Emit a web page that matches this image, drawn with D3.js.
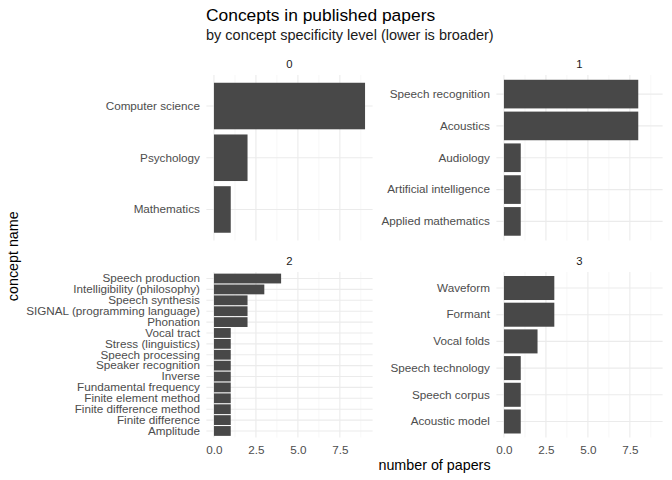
<!DOCTYPE html>
<html><head><meta charset="utf-8">
<script src="https://cdn.jsdelivr.net/npm/d3@7"></script>
<style>body{margin:0;background:#fff}text{font-family:"Liberation Sans",Arial,Helvetica,sans-serif}</style>
</head><body><div id="chart"></div>
<script>
const levels = ["0", "1", "2", "3"];
const level0Names = ["Computer science", "Psychology", "Mathematics"];
const level0Counts = [9, 2, 1];
const level1Names = ["Speech recognition", "Acoustics", "Audiology", "Artificial intelligence", "Applied mathematics"];
const level1Counts = [8, 8, 1, 1, 1];
const level2Names = ["Speech production", "Intelligibility (philosophy)", "Speech synthesis", "SIGNAL (programming language)", "Phonation", "Vocal tract", "Stress (linguistics)", "Speech processing", "Speaker recognition", "Inverse", "Fundamental frequency", "Finite element method", "Finite difference method", "Finite difference", "Amplitude"];
const level2Counts = [4, 3, 2, 2, 2, 1, 1, 1, 1, 1, 1, 1, 1, 1, 1];
const level3Names = ["Waveform", "Formant", "Vocal folds", "Speech technology", "Speech corpus", "Acoustic model"];
const level3Counts = [3, 3, 2, 1, 1, 1];
const xTicks = [0, 2.5, 5, 7.5];
const xMinor = [1.25, 3.75, 6.25, 8.75];

const W = 672, H = 480;
const svg = d3.select("#chart").append("svg").attr("width", W).attr("height", H);

const names = [level0Names, level1Names, level2Names, level3Names];
const counts = [level0Counts, level1Counts, level2Counts, level3Counts];

const colX = [[206.4, 372.6], [496.4, 662.6]];
const rowY = [[75, 240.5], [272, 437.5]];
const maxV = d3.max(counts.flat());

svg.append("text").attr("x", 206).attr("y", 21).attr("font-size", 17.4).attr("fill", "#000").text("Concepts in published papers");
svg.append("text").attr("x", 206).attr("y", 40).attr("font-size", 14.5).attr("fill", "#1a1a1a").text("by concept specificity level (lower is broader)");

levels.forEach((lv, i) => {
  const col = i % 2, row = Math.floor(i / 2);
  const [x0, x1] = colX[col];
  const [y0, y1] = rowY[row];
  const x = d3.scaleLinear().domain([-maxV * 0.05, maxV * 1.05]).range([x0, x1]);
  const n = names[i].length;
  const step = (y1 - y0) / (n + 0.2);
  const y = d3.scaleBand().domain(names[i]).range([y0 + 0.1 * step, y1 - 0.1 * step]).paddingInner(0.1).paddingOuter(0.05);
  const g = svg.append("g");
  g.selectAll("line.minor").data(xMinor).join("line")
    .attr("x1", d => x(d)).attr("x2", d => x(d)).attr("y1", y0).attr("y2", y1)
    .attr("stroke", "#f2f2f2").attr("stroke-width", 0.6);
  g.selectAll("line.major").data(xTicks).join("line")
    .attr("x1", d => x(d)).attr("x2", d => x(d)).attr("y1", y0).attr("y2", y1)
    .attr("stroke", "#ebebeb").attr("stroke-width", 1.1);
  g.selectAll("line.ymaj").data(names[i]).join("line")
    .attr("x1", x0).attr("x2", x1)
    .attr("y1", d => y(d) + y.bandwidth() / 2).attr("y2", d => y(d) + y.bandwidth() / 2)
    .attr("stroke", "#ebebeb").attr("stroke-width", 1.1);
  g.selectAll("rect").data(names[i].map((d, j) => ({ name: d, v: counts[i][j] }))).join("rect")
    .attr("x", x(0)).attr("width", d => x(d.v) - x(0))
    .attr("y", d => y(d.name)).attr("height", y.bandwidth())
    .attr("fill", "#484848");
  const yAxis = d3.axisLeft(y).tickSize(0).tickPadding(6.5);
  const ya = g.append("g").attr("transform", `translate(${x0},0)`).call(yAxis);
  ya.select(".domain").remove();
  ya.selectAll("text").attr("font-size", 11.7).attr("fill", "#4d4d4d").style("font-family", '"Liberation Sans",Arial,sans-serif');
  g.append("text").attr("x", (x0 + x1) / 2).attr("y", y0 - 7).attr("text-anchor", "middle")
    .attr("font-size", 11.3).attr("fill", "#1a1a1a").text(lv);
  if (row === 1) {
    const xAxis = d3.axisBottom(x).tickValues(xTicks).tickFormat(d3.format(".1f")).tickSize(0).tickPadding(8);
    const xa = g.append("g").attr("transform", `translate(0,${y1})`).call(xAxis);
    xa.select(".domain").remove();
    xa.selectAll("text").attr("font-size", 11.7).attr("fill", "#4d4d4d").style("font-family", '"Liberation Sans",Arial,sans-serif');
  }
});

svg.append("text").attr("x", (colX[0][0] + colX[1][1]) / 2).attr("y", 470).attr("text-anchor", "middle")
  .attr("font-size", 14.3).attr("fill", "#000").text("number of papers");
svg.append("text").attr("transform", `translate(18,${(rowY[0][0] + rowY[1][1]) / 2}) rotate(-90)`)
  .attr("text-anchor", "middle").attr("font-size", 14.3).attr("fill", "#000").text("concept name");
</script></body></html>
